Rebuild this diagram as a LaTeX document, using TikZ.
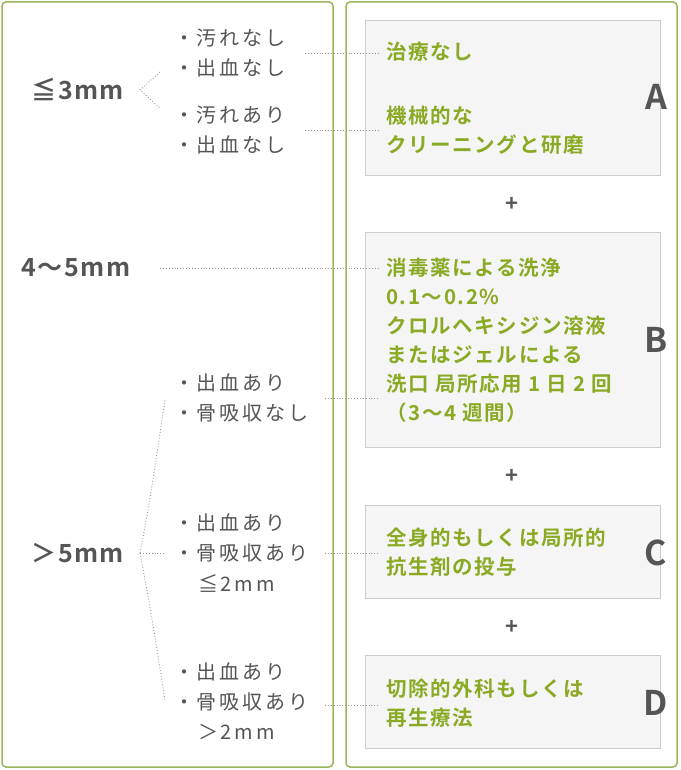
\documentclass[tikz,border=0pt]{standalone}
\usepackage{fontspec}
\setmainfont{Noto Sans CJK JP}
\newfontfamily\gfont[LetterSpace=8]{Noto Sans CJK JP Bold}
\newfontfamily\lfont[LetterSpace=14]{Noto Sans CJK JP}
\newfontfamily\bfont[LetterSpace=6]{Noto Sans CJK JP Bold}
\definecolor{pg}{HTML}{9AB55A}
\definecolor{tg}{HTML}{8AAA24}
\definecolor{dg}{HTML}{555555}
\begin{document}
\begin{tikzpicture}[x=1pt,y=-1pt,
 panel/.style={draw=pg,line width=1.5pt,rounded corners=4pt},
 gbox/.style={draw=black!20,fill=black!4},
 gtxt/.style={anchor=west,align=left,text=tg,font=\gfont\fontsize{20.5}{29}\selectfont,inner sep=0},
 ltxt/.style={anchor=west,text=dg,font=\lfont\fontsize{20}{20}\selectfont,inner sep=0},
 big/.style={text=dg,font=\bfont\fontsize{25}{26}\selectfont},
 let/.style={text=dg,font=\bfont\fontsize{34}{34}\selectfont},
 dl/.style={draw=black!40,dotted,line width=0.9pt},
 plus/.style={text=dg,font=\bfont\fontsize{22}{22}\selectfont}]
\useasboundingbox (0,0) rectangle (680,770);
\draw[panel] (2,2) rectangle (333,767);
\draw[panel] (346,2) rectangle (677,767);
\draw[gbox] (365,20) rectangle (660,175);
\draw[gbox] (365,232) rectangle (660,447);
\draw[gbox] (365,505) rectangle (660,598);
\draw[gbox] (365,655) rectangle (660,748);
\node[gtxt] (ta1) at (386,52) {治療なし};
\node[gtxt] (ta) at (386,130) {機械的な\\クリーニングと研磨};
\node[gtxt] (tb) at (386,340) {消毒薬による洗浄\\0.1〜0.2\%\\クロルヘキシジン溶液\\またはジェルによる\\洗口 局所応用 1 日 2 回\\（3〜4 週間）};
\node[gtxt] (tc) at (386,552) {全身的もしくは局所的\\抗生剤の投与};
\node[gtxt] (td) at (386,703) {切除的外科もしくは\\再生療法};
\node[let] (la) at (656,97) {A};
\node[let] (lb) at (656,340) {B};
\node[let] (lc) at (656,553) {C};
\node[let] (ld) at (656,703) {D};
\node[plus] (p1) at (512,204) {+};
\node[plus] (p2) at (512,476) {+};
\node[plus] (p3) at (512,627) {+};
\node[big,anchor=west] (g3) at (28,90) {≦3mm};
\node[big,anchor=west] (g45) at (18,268) {4〜5mm};
\node[big,anchor=west] (g5) at (28,553) {＞5mm};
\node[ltxt] (a1) at (174,38) {・汚れなし};
\node[ltxt] (a2) at (174,68) {・出血なし};
\node[ltxt] (a3) at (174,115) {・汚れあり};
\node[ltxt] (a4) at (174,145) {・出血なし};
\node[ltxt] (b1) at (174,383) {・出血あり};
\node[ltxt] (b2) at (174,413) {・骨吸収なし};
\node[ltxt] (c1) at (174,523) {・出血あり};
\node[ltxt] (c2) at (174,553) {・骨吸収あり};
\node[ltxt] (c3) at (198,583) {≦2mm};
\node[ltxt] (d1) at (174,672) {・出血あり};
\node[ltxt] (d2) at (174,702) {・骨吸収あり};
\node[ltxt] (d3) at (198,732) {＞2mm};
\coordinate (k3) at (140,90);
\draw[dl] (160,72) -- (k3) -- (160,108);
\draw[dl] (305,53) -- (380,53);
\draw[dl] (305,130) -- (380,130);
\draw[dl] (160,268) -- (380,268);
\coordinate (k5) at (140,553);
\draw[dl] (k5) .. controls (150,500) .. (165,400);
\draw[dl] (k5) -- (165,553);
\draw[dl] (k5) .. controls (150,606) .. (165,700);
\draw[dl] (325,398) -- (380,398);
\draw[dl] (325,553) -- (380,553);
\draw[dl] (325,705) -- (380,705);
\end{tikzpicture}
\end{document}
